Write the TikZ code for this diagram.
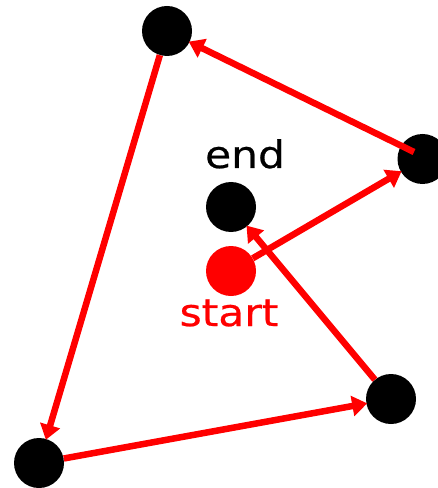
\documentclass[tikz,border=0pt]{standalone}
\usepackage{fontspec}
\setmainfont{DejaVu Sans}
\newfontfamily\labelfont[FakeStretch=1.12,FakeBold=0.6]{DejaVu Sans}
\usetikzlibrary{arrows.meta}
\definecolor{pred}{RGB}{255,0,0}
\tikzset{
  dot/.style={circle,fill=black,minimum size=50bp,inner sep=0pt},
  sdot/.style={circle,fill=pred,minimum size=50bp,inner sep=0pt},
  conn/.style={draw=pred,line width=6.5bp,-{Triangle[length=15bp,width=20bp]},shorten >=-1bp},
  lbl/.style={font=\labelfont\fontsize{38}{38}\selectfont,inner sep=0pt,anchor=base}
}
\begin{document}
\begin{tikzpicture}[x=1bp,y=-1bp]
\useasboundingbox (0,0) rectangle (438,488);
\node[dot] (top) at (167,31) {};
\node[dot] (right) at (422.5,159) {};
\node[dot] (end) at (231,207) {};
\node[sdot] (start) at (231,271) {};
\node[dot] (br) at (391,399) {};
\node[dot] (bl) at (39,463) {};
\coordinate (rin) at (414,152);
\node[lbl] (endlbl) at (245,168) {end};
\node[lbl,text=pred] (startlbl) at (229,326) {start};
\draw[conn] (start) -- (right);
\draw[conn] (rin) -- (top);
\draw[conn] (top) -- (bl);
\draw[conn] (bl) -- (br);
\draw[conn] (br) -- (end);
\end{tikzpicture}
\end{document}
